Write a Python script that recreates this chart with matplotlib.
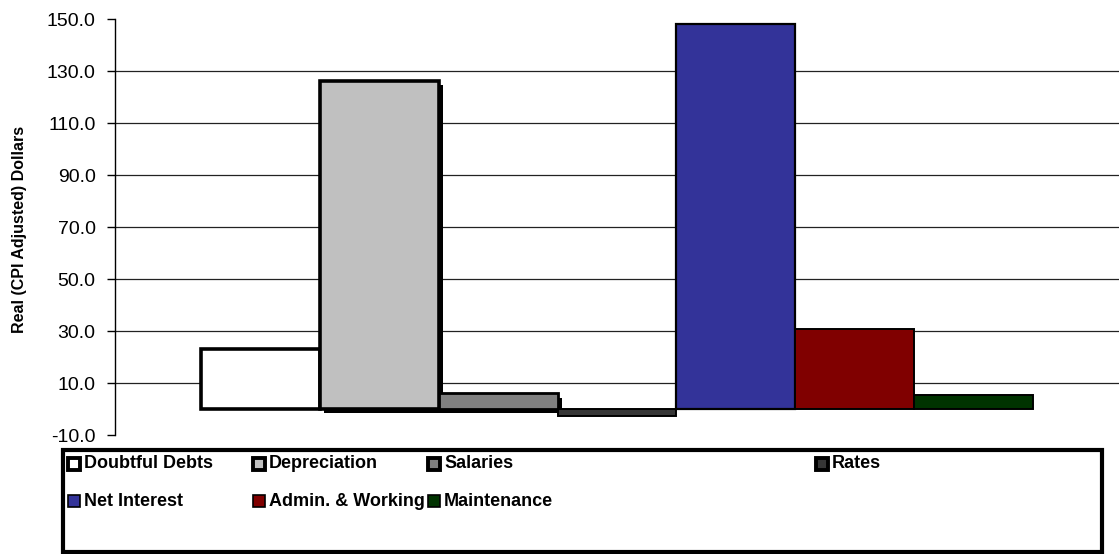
import matplotlib
matplotlib.use("Agg")
import matplotlib.pyplot as plt
import matplotlib.patheffects as pe
from matplotlib.patches import Rectangle

plt.rcParams['font.family'] = ['Liberation Sans', 'DejaVu Sans']

# cost components, real (CPI adjusted) dollars
series = ['Doubtful Debts', 'Depreciation', 'Salaries', 'Rates',
          'Net Interest', 'Admin. & Working', 'Maintenance']
values = [22.9, 126.3, 6.0, -2.5, 148.0, 30.6, 5.4]
colors = ['#FFFFFF', '#C0C0C0', '#808080', '#363636',
          '#333399', '#800000', '#003300']
edge_widths = [2.6, 2.6, 2.0, 1.4, 1.6, 1.4, 1.4]
yticks = [-10, 10, 30, 50, 70, 90, 110, 130, 150]

fig = plt.figure(figsize=(11.19, 5.54), dpi=100)
ax = fig.add_axes([0.1028, 0.2148, 0.8972, 0.7509])

for i, (v, c, lw) in enumerate(zip(values, colors, edge_widths)):
    bar = ax.bar(i, v, width=1.0, color=c, edgecolor='black',
                 linewidth=lw, zorder=3)[0]
    if series[i] in ('Depreciation', 'Salaries'):
        bar.set_path_effects([pe.SimplePatchShadow(offset=(3, -3),
                                                   shadow_rgbFace='black', alpha=1),
                              pe.Normal()])

ax.set_xlim(-1.22, 7.22)
ax.set_ylim(-10, 150)
ax.set_yticks(yticks)
ax.set_yticklabels([f'{t:.1f}' for t in yticks], fontsize=14)
ax.set_xticks([])
for t in yticks[1:-1]:
    ax.axhline(t, color='#222222', linewidth=0.9, zorder=1)

for side in ('top', 'right', 'bottom'):
    ax.spines[side].set_visible(False)
ax.spines['left'].set_linewidth(1.0)
ax.tick_params(axis='y', length=6, width=1, pad=8)

fig.text(0.017, 0.585, 'Real (CPI Adjusted) Dollars', rotation=90,
         fontsize=11.5, fontweight='bold', ha='center', va='center')

# legend box below the plot
W, H = 1119, 554
fig.patches.append(Rectangle((63 / W, 1 - 552 / H), (1102 - 63) / W, (552 - 450) / H,
                             transform=fig.transFigure, facecolor='white',
                             edgecolor='black', linewidth=3))
col_x = [68, 253, 428, 816]
row_y = [464, 501]
for k, name in enumerate(series):
    r, cpos = divmod(k, 4)
    x0, yc = col_x[cpos], row_y[r]
    lw = 2.8 if k < 4 else 1.2
    fig.patches.append(Rectangle((x0 / W, 1 - (yc + 6) / H), 12 / W, 12 / H,
                                 transform=fig.transFigure, facecolor=colors[k],
                                 edgecolor='black', linewidth=lw))
    fig.text((x0 + 16) / W, 1 - yc / H, name, fontsize=13,
             fontweight='bold', ha='left', va='center')

fig.savefig('out.png', dpi=100)
